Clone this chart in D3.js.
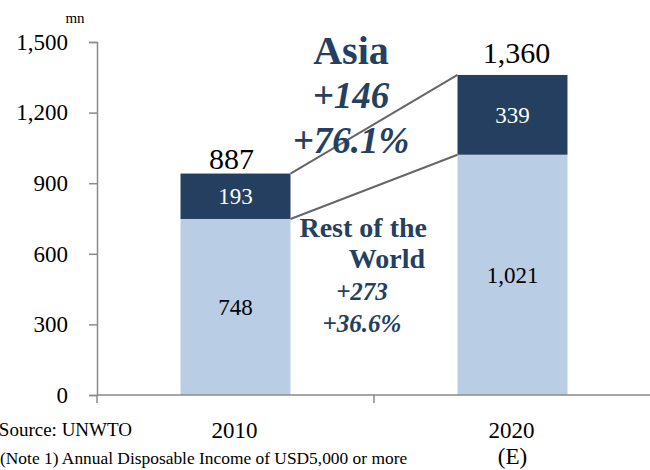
<!DOCTYPE html>
<html>
<head>
<meta charset="utf-8">
<script src="https://cdn.jsdelivr.net/npm/d3@7"></script>
<style>
  html, body { margin: 0; padding: 0; background: #fff; }
  svg { display: block; font-family: "Liberation Serif", "Times New Roman", serif; }
</style>
</head>
<body>
<svg id="chart" width="650" height="470"></svg>
<script>
// ---- data ----
const categories = ["2010", "2020"];
const categoryNotes = ["", "(E)"];
const restOfWorld = [748, 1021];
const asia = [193, 339];
const totalLabels = ["887", "1,360"];
const yTicks = [0, 300, 600, 900, 1200, 1500];
const unitLabel = "mn";
const asiaNote = ["Asia", "+146", "+76.1%"];
const rowNote = ["Rest of the", "World", "+273", "+36.6%"];
const sourceText = "Source: UNWTO";
const footnoteText = "(Note 1)  Annual Disposable Income of  USD5,000 or more";

// ---- layout ----
const svg = d3.select("#chart");
const W = 650, H = 470;
const x0 = 97, yBase = 395, yTop = 42;
const darkC = "#253F60", lightC = "#B9CDE5", annC = "#243F60", axisC = "#8A8A8A";

const y = d3.scaleLinear().domain([0, 1500]).range([yBase, yTop]);
const x = d3.scaleBand().domain(categories).range([x0, 651])
  .paddingInner(0.603).paddingOuter(0.3015);
const fmt = d3.format(",");

// stacked data
const rows = categories.map((c, i) => ({ cat: c, row: restOfWorld[i], asia: asia[i], total: totalLabels[i], note: categoryNotes[i] }));

// bars: rest of world
svg.append("g").selectAll("rect").data(rows).join("rect")
  .attr("x", d => x(d.cat)).attr("width", x.bandwidth())
  .attr("y", d => y(d.row)).attr("height", d => y(0) - y(d.row))
  .attr("fill", lightC);
// bars: asia
svg.append("g").selectAll("rect").data(rows).join("rect")
  .attr("x", d => x(d.cat)).attr("width", x.bandwidth())
  .attr("y", d => y(d.row + d.asia)).attr("height", d => y(d.row) - y(d.row + d.asia))
  .attr("fill", darkC);

// connector lines
const r0 = rows[0], r1 = rows[1];
const lines = [
  [r0.row + r0.asia, r1.row + r1.asia],
  [r0.row, r1.row]
];
svg.append("g").selectAll("line").data(lines).join("line")
  .attr("x1", x(r0.cat) + x.bandwidth()).attr("y1", d => y(d[0]))
  .attr("x2", x(r1.cat)).attr("y2", d => y(d[1]))
  .attr("stroke", "#666").attr("stroke-width", 2);

// axes
const yAxis = d3.axisLeft(y).tickValues(yTicks).tickFormat(fmt).tickSize(8).tickPadding(21);
const gy = svg.append("g").attr("transform", `translate(${x0},0)`).call(yAxis);
gy.select(".domain").attr("stroke", axisC).attr("stroke-width", 1.5);
gy.selectAll(".tick line").attr("stroke", axisC).attr("stroke-width", 1.5);
gy.selectAll(".tick text").attr("font-size", 23).attr("fill", "#000")
  .attr("font-family", "Liberation Serif, serif");

// x axis line + boundary ticks
const step = x.step();
svg.append("line").attr("x1", x0).attr("x2", W).attr("y1", yBase).attr("y2", yBase)
  .attr("stroke", axisC).attr("stroke-width", 1.5);
const bounds = d3.range(categories.length + 1).map(i => x0 + i * step);
svg.append("g").selectAll("line").data(bounds).join("line")
  .attr("x1", d => d).attr("x2", d => d).attr("y1", yBase).attr("y2", yBase + 8)
  .attr("stroke", axisC).attr("stroke-width", 1.5);

// category labels
svg.append("g").selectAll("text").data(rows).join("text")
  .attr("x", d => x(d.cat) + x.bandwidth() / 2 - 1).attr("y", 438)
  .attr("text-anchor", "middle").attr("font-size", 23).text(d => d.cat);
svg.append("g").selectAll("text").data(rows.filter(d => d.note)).join("text")
  .attr("x", d => x(d.cat) + x.bandwidth() / 2).attr("y", 464)
  .attr("text-anchor", "middle").attr("font-size", 23).text(d => d.note);

// segment labels
svg.append("g").selectAll("text").data(rows).join("text")
  .attr("x", d => x(d.cat) + x.bandwidth() / 2)
  .attr("y", d => (y(0) + y(d.row)) / 2).attr("dy", "0.35em")
  .attr("text-anchor", "middle").attr("font-size", 23).attr("fill", "#000")
  .text(d => fmt(d.row));
svg.append("g").selectAll("text").data(rows).join("text")
  .attr("x", d => x(d.cat) + x.bandwidth() / 2)
  .attr("y", d => (y(d.row) + y(d.row + d.asia)) / 2).attr("dy", "0.35em")
  .attr("text-anchor", "middle").attr("font-size", 23).attr("fill", "#fff")
  .text(d => fmt(d.asia));
// total labels
svg.append("g").selectAll("text").data(rows).join("text")
  .attr("x", (d, i) => x(d.cat) + x.bandwidth() / 2 + (i === 0 ? -4 : 4))
  .attr("y", (d, i) => y(d.row + d.asia) - (i === 0 ? 5 : 12))
  .attr("text-anchor", "middle").attr("font-size", 30).attr("fill", "#000")
  .text(d => d.total);

// unit label
svg.append("text").attr("x", 75).attr("y", 23).attr("text-anchor", "middle")
  .attr("font-size", 15).text(unitLabel);

// Asia annotation
const asiaG = svg.append("g").attr("fill", annC).attr("font-weight", "bold").attr("text-anchor", "middle");
asiaG.append("text").attr("x", 351).attr("y", 64).attr("font-size", 40).text(asiaNote[0]);
asiaG.append("text").attr("x", 351).attr("y", 108).attr("font-size", 37).attr("font-style", "italic").text(asiaNote[1]);
asiaG.append("text").attr("x", 351).attr("y", 153).attr("font-size", 37).attr("font-style", "italic").text(asiaNote[2]);

// Rest of the World annotation
const rowG = svg.append("g").attr("fill", annC).attr("font-weight", "bold");
rowG.append("text").attr("x", 427).attr("y", 237).attr("text-anchor", "end").attr("font-size", 28).text(rowNote[0]);
rowG.append("text").attr("x", 425).attr("y", 268).attr("text-anchor", "end").attr("font-size", 28).text(rowNote[1]);
rowG.append("text").attr("x", 362).attr("y", 300).attr("text-anchor", "middle").attr("font-size", 25).attr("font-style", "italic").text(rowNote[2]);
rowG.append("text").attr("x", 362).attr("y", 332).attr("text-anchor", "middle").attr("font-size", 25).attr("font-style", "italic").text(rowNote[3]);

// source and footnote
svg.append("text").attr("x", 132).attr("y", 436).attr("text-anchor", "end").attr("font-size", 19).text(sourceText);
svg.append("text").attr("x", 0).attr("y", 464).attr("font-size", 17.4).text(footnoteText);
</script>
</body>
</html>
